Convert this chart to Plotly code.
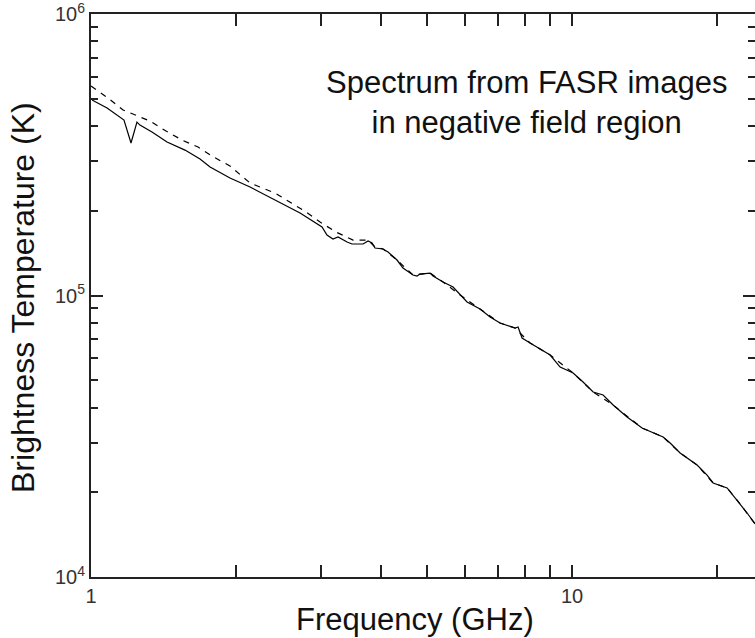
import numpy as np
import plotly.graph_objects as go

# Solid spectrum (frequency GHz, brightness temperature K)
freq_solid = [1.005, 1.080, 1.171, 1.211, 1.246, 1.264, 1.339, 1.439, 1.568, 1.685,
              1.768, 1.945, 2.141, 2.471, 2.720, 3.021, 3.094, 3.184, 3.262, 3.406,
              3.488, 3.677, 3.766, 3.839, 3.894, 4.046, 4.144, 4.326, 4.452, 4.670,
              4.760, 4.829, 5.067, 5.140, 5.393, 5.657, 5.850, 6.049, 6.437, 6.753,
              7.084, 7.612, 7.722, 7.871, 8.178, 9.003, 9.444, 10.05, 10.54, 11.06,
              11.60, 12.17, 13.01, 13.98, 15.46, 15.99, 16.77, 18.19, 19.08, 19.64,
              21.00, 22.03, 23.11, 24.01]
tb_solid = [4.950e5, 4.636e5, 4.202e5, 3.482e5, 4.134e5, 4.033e5, 3.809e5, 3.511e5, 3.286e5, 3.054e5,
            2.860e5, 2.615e5, 2.429e5, 2.131e5, 1.964e5, 1.751e5, 1.640e5, 1.587e5, 1.614e5, 1.549e5,
            1.524e5, 1.524e5, 1.562e5, 1.536e5, 1.475e5, 1.463e5, 1.428e5, 1.337e5, 1.252e5, 1.183e5,
            1.173e5, 1.192e5, 1.202e5, 1.173e5, 1.117e5, 1.072e5, 1.004e5, 9.483e4, 8.954e4, 8.386e4,
            7.985e4, 7.665e4, 7.728e4, 7.064e4, 6.781e4, 6.147e4, 5.572e4, 5.306e4, 4.929e4, 4.542e4,
            4.432e4, 4.084e4, 3.702e4, 3.383e4, 3.143e4, 2.993e4, 2.758e4, 2.500e4, 2.303e4, 2.158e4,
            2.071e4, 1.877e4, 1.688e4, 1.543e4]

# Dashed spectrum
freq_dash = [1.000, 1.085, 1.166, 1.326, 1.432, 1.546, 1.669, 1.785, 1.945, 2.141,
             2.413, 2.593, 2.799, 2.993, 3.231, 3.505, 3.766, 3.894, 4.046, 4.326,
             4.670, 5.067, 5.393, 5.850, 6.437, 7.084, 7.612, 8.178, 9.003, 10.05,
             11.06, 12.17, 13.98, 15.46, 16.77, 18.19, 19.64, 21.00, 22.03, 24.01]
tb_dash = [5.549e5, 5.031e5, 4.561e5, 4.168e5, 3.840e5, 3.568e5, 3.369e5, 3.130e5, 2.884e5, 2.510e5,
           2.313e5, 2.148e5, 1.980e5, 1.824e5, 1.681e5, 1.574e5, 1.574e5, 1.487e5, 1.463e5, 1.337e5,
           1.183e5, 1.202e5, 1.117e5, 1.004e5, 8.954e4, 7.985e4, 7.665e4, 6.781e4, 6.147e4, 5.306e4,
           4.542e4, 4.084e4, 3.383e4, 3.143e4, 2.758e4, 2.500e4, 2.158e4, 2.071e4, 1.877e4, 1.543e4]

x_ticks = [1, 10]
x_ticktext = ["1", "10"]
x_minor = [2, 3, 4, 5, 6, 7, 8, 9, 20]
y_ticks = [1e4, 1e5, 1e6]
y_ticktext = ["10<sup>4</sup>", "10<sup>5</sup>", "10<sup>6</sup>"]
y_minor = [m * 10 ** e for e in (4, 5) for m in range(2, 10)]

FONT = "Liberation Sans"
AXC = "#222222"

fig = go.Figure()
fig.add_trace(go.Scatter(x=freq_dash, y=tb_dash, mode="lines",
                         line=dict(color="black", width=1.2, dash="6px,6px"),
                         showlegend=False, hoverinfo="skip"))
fig.add_trace(go.Scatter(x=freq_solid, y=tb_solid, mode="lines",
                         line=dict(color="black", width=1.2),
                         showlegend=False, hoverinfo="skip"))

xr = [0, np.log10(24.0)]
yr = [4, 6.0002]

fig.update_layout(
    width=755, height=638,
    margin=dict(l=91, r=0, t=14, b=61, pad=0),
    paper_bgcolor="white", plot_bgcolor="white",
    font=dict(family=FONT, color="#222"),
    xaxis=dict(type="log", range=xr, tickmode="array", tickvals=x_ticks, ticktext=x_ticktext,
               ticks="inside", ticklen=12, tickwidth=1.5, tickcolor=AXC,
               showline=True, linecolor=AXC, linewidth=2, mirror="allticks",
               showgrid=False, zeroline=False, ticklabeloverflow="allow",
               tickfont=dict(family=FONT, size=20, color="#333"),
               minor=dict(tickmode="array", tickvals=x_minor, ticks="inside", ticklen=7,
                          tickwidth=1.5, tickcolor=AXC, showgrid=False)),
    yaxis=dict(type="log", range=yr, tickmode="array", tickvals=y_ticks, ticktext=y_ticktext,
               ticks="inside", ticklen=12, tickwidth=1.5, tickcolor=AXC,
               showline=True, linecolor=AXC, linewidth=2, mirror=False,
               showgrid=False, zeroline=False, ticklabeloverflow="allow",
               tickfont=dict(family=FONT, size=20, color="#333"),
               minor=dict(tickmode="array", tickvals=y_minor, ticks="inside", ticklen=7,
                          tickwidth=1.5, tickcolor=AXC, showgrid=False)),
    yaxis2=dict(type="log", range=yr, overlaying="y", side="right", anchor="x",
                tickmode="array", tickvals=y_ticks, showticklabels=False,
                ticks="inside", ticklen=12, tickwidth=1.5, tickcolor=AXC,
                showline=False, showgrid=False, zeroline=False,
                minor=dict(tickmode="array", tickvals=y_minor, ticks="inside", ticklen=7,
                           tickwidth=1.5, tickcolor=AXC, showgrid=False)),
)

# invisible trace to activate the right-hand tick axis
fig.add_trace(go.Scatter(x=[1], y=[1e5], yaxis="y2", mode="markers",
                         marker=dict(opacity=0), showlegend=False, hoverinfo="skip"))

fig.add_annotation(text="Spectrum from FASR images<br>in negative field region",
                   xref="paper", yref="paper", x=0.656, y=0.842,
                   xanchor="center", yanchor="middle", showarrow=False,
                   font=dict(family=FONT, size=31, color="#111"))
fig.add_annotation(text="Frequency (GHz)", xref="paper", yref="paper",
                   x=0.4887, y=-0.0755, xanchor="center", yanchor="middle",
                   showarrow=False, font=dict(family=FONT, size=31, color="#111"))
fig.add_annotation(text="Brightness Temperature (K)", xref="paper", yref="paper",
                   x=-0.1024, y=0.4956, xanchor="center", yanchor="middle", textangle=-90,
                   showarrow=False, font=dict(family=FONT, size=32, color="#111"))

fig.write_html("out.html")
